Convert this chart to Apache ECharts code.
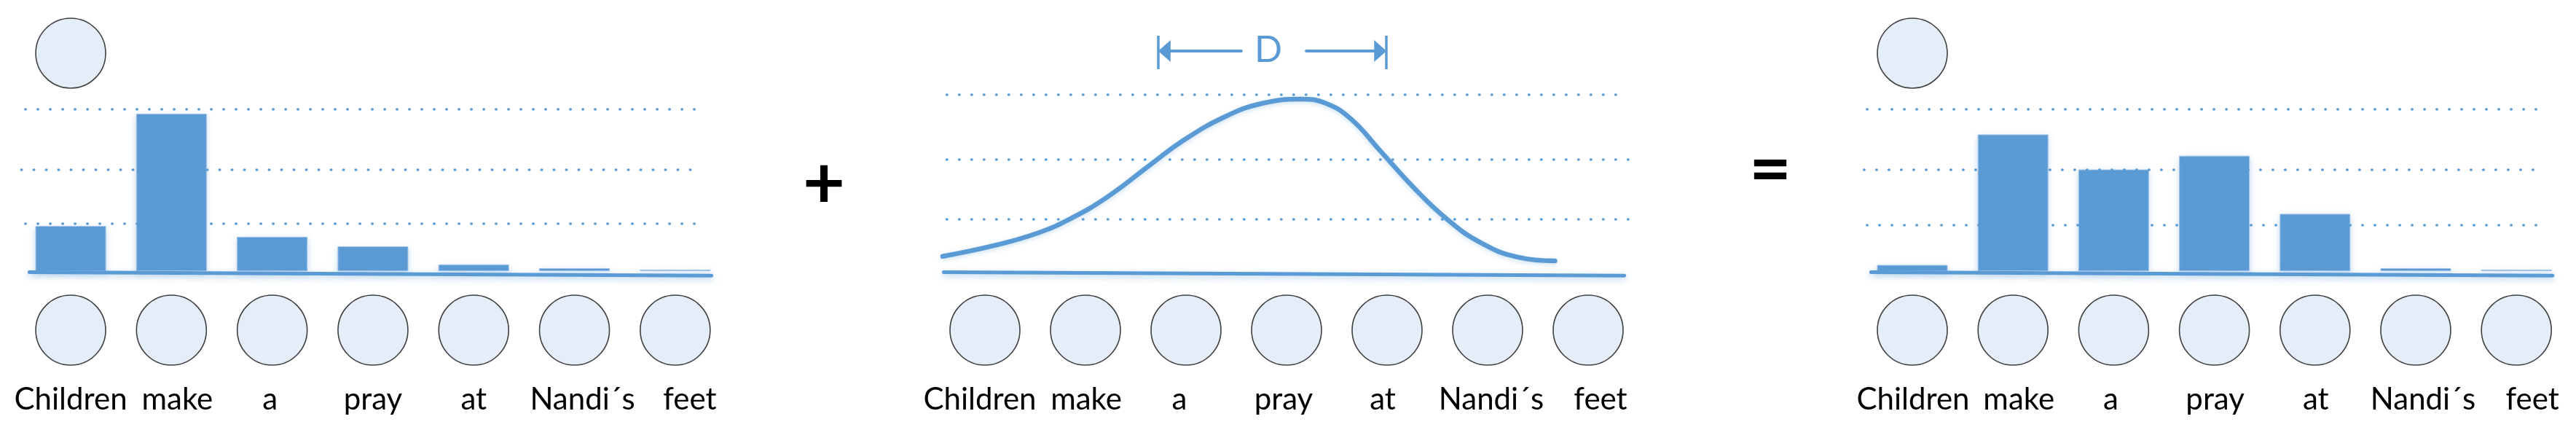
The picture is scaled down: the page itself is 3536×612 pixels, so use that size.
<!DOCTYPE html>
<html>
<head>
<meta charset="utf-8">
<script src="https://cdn.jsdelivr.net/npm/echarts@6/dist/echarts.min.js"></script>
<style>
html,body{margin:0;padding:0;background:#fff;}
#chart{width:3536px;height:612px;}
</style>
</head>
<body>
<div id="chart"></div>
<script>
// ---------------- DATA ----------------
const categories = ['Children', 'make', 'a', 'pray', 'at', 'Nandi´s', 'feet'];
const leftBars  = [27.9, 97.3, 21.2, 15.3, 4.1, 1.8, 0.9];
const rightBars = [3.8, 84.5, 62.8, 71.3, 35.4, 1.8, 0.9];
// attention curve (x in word positions, y in same units as bars)
const curveX = [-0.42, 0.10, 0.52, 0.85, 1.22, 1.64, 1.97, 2.39, 2.76, 3.14, 3.39, 3.64, 3.93, 4.26, 4.59, 4.93, 5.30, 5.67];
const curveY = [9.1, 15.9, 23.4, 32.4, 45.9, 65.5, 80.6, 95.5, 103.7, 106.3, 103.7, 94.1, 74.5, 51.9, 32.4, 17.6, 8.6, 6.3];
// dotted guide levels
const leftGuides   = [100, 62.6, 29.3];
const middleGuides = [109, 69, 32];
const rightGuides  = [100, 62.6, 28.4];
// circle (word node) levels
const nodeLevel = -36.5;
const queryLevel = 134.7;
// window D: arrow ends in word positions
const windowD = {label: 'D', from: 1.725, to: 3.993, level: 136};
const operators = ['+', '='];

// ---------------- LAYOUT / STYLE ----------------
const BLUE = '#5b9bd5';
const NODE_FILL = '#deeaf6';
const FONT = 'Lato';
const gridTop = 16.8, gridHeight = 488.4, yMin = -60, yMax = 160;
const panels = [
  {left: 27.9,   width: 968.1, guidesX: [[-0.45, 6.30], [-0.49, 6.26], [-0.45, 6.30]],
   labelShift: [0, 8, -3, 0, 0, 11, 20]},
  {left: 1283,   width: 966,   guidesX: [[-0.38, 6.38], [-0.38, 6.40], [-0.38, 6.40]],
   labelShift: [-7, 1, -9, -4, -6, 5, 17]},
  {left: 2555.9, width: 967.4, guidesX: [[-0.45, 6.30], [-0.48, 6.25], [-0.45, 6.30]],
   labelShift: [1, 8, -4, 1, 1, 10, 22]}
];
const baseLine = {x: [-0.41, 6.36], y: [-0.7, -2.8]};

const grids = [], xAxes = [], yAxes = [], series = [];
const dotStyle = {color: BLUE, width: 3.5, type: [0.5, 16.5], cap: 'round'};
const baseStyle = {color: BLUE, width: 5, type: 'solid', cap: 'round',
  shadowBlur: 8, shadowColor: 'rgba(91,155,213,0.45)', shadowOffsetY: 3};

function guideLines(levels, extents) {
  return levels.map((v, i) => [
    {coord: [extents[i][0], v], symbol: 'none', lineStyle: dotStyle},
    {coord: [extents[i][1], v], symbol: 'none'}
  ]);
}
function baseData() {
  return [[
    {coord: [baseLine.x[0], baseLine.y[0]], symbol: 'none', lineStyle: baseStyle},
    {coord: [baseLine.x[1], baseLine.y[1]], symbol: 'none'}
  ]];
}
function labelRich(shifts) {
  const rich = {};
  shifts.forEach((d, k) => {
    rich['r' + k] = {
      fontFamily: FONT, fontSize: 42, color: '#000',
      padding: d >= 0 ? [0, 0, 0, 2 * d] : [0, -2 * d, 0, 0]
    };
  });
  return rich;
}

panels.forEach((p, i) => {
  grids.push({left: p.left, width: p.width, top: gridTop, height: gridHeight, containLabel: false});
  xAxes.push({
    type: 'category', gridIndex: i, data: categories, boundaryGap: true,
    axisLine: {show: false}, axisTick: {show: false}, splitLine: {show: false},
    axisLabel: {
      interval: 0, fontFamily: FONT, fontSize: 42, color: '#000', margin: 22,
      formatter: (value, idx) => '{r' + idx + '|' + value + '}',
      rich: labelRich(p.labelShift)
    }
  });
  xAxes.push({
    type: 'value', gridIndex: i, min: -0.5, max: 6.5, show: false,
    splitLine: {show: false}
  });
  yAxes.push({type: 'value', gridIndex: i, min: yMin, max: yMax, show: false, splitLine: {show: false}});
});

const guideSets = [leftGuides, middleGuides, rightGuides];
const barSets = [leftBars, null, rightBars];

panels.forEach((p, i) => {
  const nodes = categories.map((c, k) => [k, nodeLevel]);
  if (i !== 1) nodes.push([0, queryLevel]);
  series.push({
    type: 'scatter', xAxisIndex: 2 * i + 1, yAxisIndex: i,
    data: nodes, symbol: 'circle', symbolSize: 96, clip: false, silent: true,
    itemStyle: {color: NODE_FILL, borderColor: '#111', borderWidth: 1.6},
    z: 3,
    markLine: {
      silent: true, symbol: 'none', animation: false,
      label: {show: false},
      data: guideLines(guideSets[i], p.guidesX).concat(baseData())
    }
  });
  if (barSets[i]) {
    series.push({
      type: 'bar', xAxisIndex: 2 * i, yAxisIndex: i,
      data: barSets[i], barWidth: 97, silent: true,
      itemStyle: {color: BLUE, borderColor: '#a4c2e6', borderWidth: 1,
        shadowBlur: 8, shadowColor: 'rgba(91,155,213,0.35)', shadowOffsetY: 3},
      z: 2
    });
  }
});

// attention curve with window marker
const arrowStyle = {color: BLUE, width: 4, type: 'solid', cap: 'round'};
const barStyle = {color: BLUE, width: 3.5, type: 'solid'};
series.push({
  type: 'line', xAxisIndex: 3, yAxisIndex: 1,
  data: curveX.map((x, k) => [x, curveY[k]]),
  smooth: 0.45, showSymbol: false, silent: true,
  lineStyle: {color: BLUE, width: 6.5, cap: 'round',
    shadowBlur: 6, shadowColor: 'rgba(91,155,213,0.3)', shadowOffsetY: 2},
  z: 4,
  markLine: {
    silent: true, animation: false, label: {show: false},
    data: [
      [{coord: [windowD.from + 0.06, windowD.level], symbol: 'triangle', symbolSize: [30, 17], lineStyle: arrowStyle},
       {coord: [2.55, windowD.level], symbol: 'none'}],
      [{coord: [3.196, windowD.level], symbol: 'none', lineStyle: arrowStyle},
       {coord: [windowD.to - 0.06, windowD.level], symbol: 'triangle', symbolSize: [30, 17]}],
      [{coord: [windowD.from, windowD.level + 9.5], symbol: 'none', lineStyle: barStyle},
       {coord: [windowD.from, windowD.level - 11.2], symbol: 'none'}],
      [{coord: [windowD.to, windowD.level + 9.5], symbol: 'none', lineStyle: barStyle},
       {coord: [windowD.to, windowD.level - 11.2], symbol: 'none'}]
    ]
  }
});

const chart = echarts.init(document.getElementById('chart'), null, {renderer: 'canvas'});
chart.setOption({
  backgroundColor: '#fff',
  animation: false,
  grid: grids, xAxis: xAxes, yAxis: yAxes, series: series,
  graphic: [
    {type: 'text', left: 1742 - 20, top: 44, silent: true,
     style: {text: windowD.label, fontFamily: FONT, fontSize: 50, fill: BLUE}},
    {type: 'text', x: 1131, y: 253, silent: true,
     style: {text: operators[0], fontFamily: FONT, fontWeight: 'bold', fontSize: 100, fill: '#000', align: 'center', verticalAlign: 'middle'}},
    {type: 'text', x: 2430, y: 234, silent: true,
     style: {text: operators[1], fontFamily: FONT, fontWeight: 'bold', fontSize: 100, fill: '#000', align: 'center', verticalAlign: 'middle'}}
  ]
});
</script>
</body>
</html>
